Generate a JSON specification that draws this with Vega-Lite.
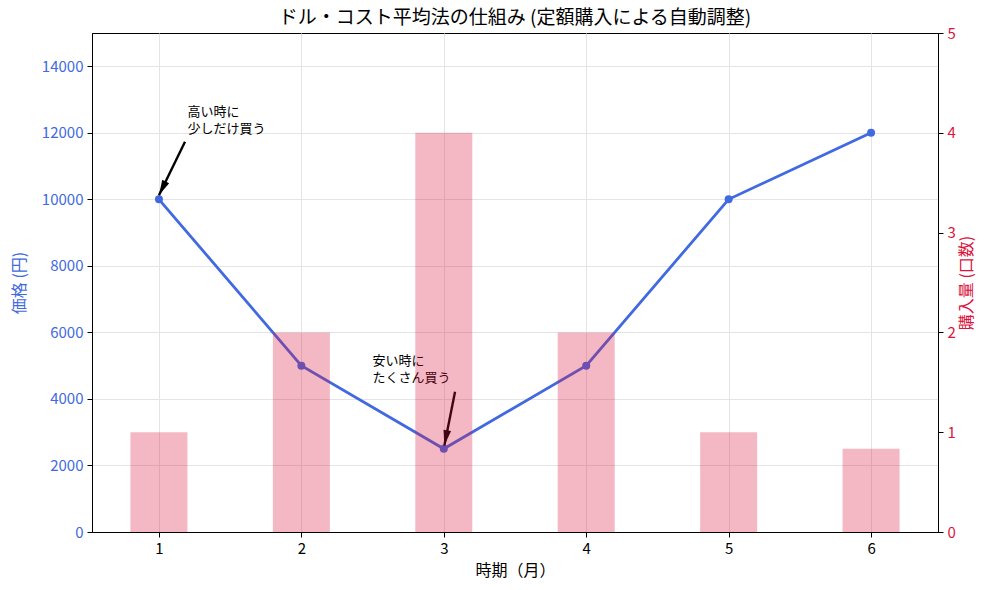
{
  "$schema": "https://vega.github.io/schema/vega-lite/v6.json",
  "width": 846,
  "height": 499,
  "autosize": "none",
  "padding": {"left": 92, "top": 33, "right": 52, "bottom": 58},
  "background": "white",
  "title": {
    "text": "ドル・コスト平均法の仕組み (定額購入による自動調整)",
    "fontSize": 19,
    "fontWeight": "normal",
    "color": "black",
    "anchor": "middle",
    "offset": -2
  },
  "datasets": {
    "prices": [
      {"month": 1, "price": 10000, "units": 1},
      {"month": 2, "price": 5000, "units": 2},
      {"month": 3, "price": 2500, "units": 4},
      {"month": 4, "price": 5000, "units": 2},
      {"month": 5, "price": 10000, "units": 1},
      {"month": 6, "price": 12000, "units": 0.8333}
    ],
    "notes": [
      {"id": "high", "label": "高い時に\n少しだけ買う", "tx": 1.2, "ty": 12000, "ax": 1.183, "ay": 11730, "hx": 1.0, "hy": 10120},
      {"id": "low", "label": "安い時に\nたくさん買う", "tx": 2.5, "ty": 4500, "ax": 3.079, "ay": 4217, "hx": 3.004, "hy": 2600}
    ]
  },
  "layer": [
    {
      "layer": [
        {
          "data": {"name": "prices"},
          "mark": {"type": "line", "color": "#4169E1", "strokeWidth": 2.8},
          "encoding": {
            "x": {
              "field": "month",
              "type": "quantitative",
              "title": "時期（月）",
              "scale": {"domain": [0.53, 6.47], "nice": false, "zero": false, "padding": 0},
              "axis": {"values": [1, 2, 3, 4, 5, 6], "format": "d", "grid": true}
            },
            "y": {
              "field": "price",
              "type": "quantitative",
              "title": "価格 (円)",
              "scale": {"domain": [0, 15000], "nice": false},
              "axis": {
                "orient": "left",
                "values": [0, 2000, 4000, 6000, 8000, 10000, 12000, 14000],
                "format": "d",
                "grid": true,
                "labelColor": "#4169E1",
                "titleColor": "#4169E1",
                "titlePadding": 14
              }
            }
          }
        },
        {
          "data": {"name": "prices"},
          "mark": {"type": "point", "filled": true, "color": "#4169E1", "size": 64, "opacity": 1},
          "encoding": {
            "x": {"field": "month", "type": "quantitative", "title": "時期（月）"},
            "y": {"field": "price", "type": "quantitative", "title": "価格 (円)"}
          }
        },
        {
          "data": {"name": "notes"},
          "mark": {"type": "rule", "color": "black", "strokeWidth": 2.4},
          "encoding": {
            "x": {"field": "ax", "type": "quantitative", "title": "時期（月）"},
            "y": {"field": "ay", "type": "quantitative", "title": "価格 (円)"},
            "x2": {"field": "hx"},
            "y2": {"field": "hy"}
          }
        },
        {
          "data": {"name": "notes"},
          "transform": [{"filter": "datum.id == 'high'"}],
          "mark": {"type": "point", "filled": true, "color": "black", "opacity": 1, "size": 196, "shape": "M0,0L-0.55,-2.2L0.55,-2.2Z", "angle": 26},
          "encoding": {
            "x": {"field": "hx", "type": "quantitative", "title": "時期（月）"},
            "y": {"field": "hy", "type": "quantitative", "title": "価格 (円)"}
          }
        },
        {
          "data": {"name": "notes"},
          "transform": [{"filter": "datum.id == 'low'"}],
          "mark": {"type": "point", "filled": true, "color": "black", "opacity": 1, "size": 196, "shape": "M0,0L-0.55,-2.2L0.55,-2.2Z", "angle": 11},
          "encoding": {
            "x": {"field": "hx", "type": "quantitative", "title": "時期（月）"},
            "y": {"field": "hy", "type": "quantitative", "title": "価格 (円)"}
          }
        },
        {
          "data": {"name": "notes"},
          "mark": {"type": "text", "align": "left", "baseline": "alphabetic", "lineBreak": "\n", "fontSize": 13, "lineHeight": 17, "dy": -17, "color": "black"},
          "encoding": {
            "x": {"field": "tx", "type": "quantitative", "title": "時期（月）"},
            "y": {"field": "ty", "type": "quantitative", "title": "価格 (円)"},
            "text": {"field": "label"}
          }
        }
      ]
    },
    {
      "data": {"name": "prices"},
      "mark": {"type": "bar", "size": 57, "color": "crimson", "opacity": 0.3},
      "encoding": {
        "x": {"field": "month", "type": "quantitative", "title": "時期（月）"},
        "y": {
          "field": "units",
          "type": "quantitative",
          "title": "購入量 (口数)",
          "scale": {"domain": [0, 5], "nice": false},
          "axis": {
            "orient": "right",
            "values": [0, 1, 2, 3, 4, 5],
            "format": "d",
            "grid": false,
            "labelColor": "crimson",
            "titleColor": "crimson",
            "titleAngle": -90,
            "titleBaseline": "top",
            "titlePadding": 3
          }
        }
      }
    }
  ],
  "resolve": {"scale": {"y": "independent"}},
  "config": {
    "font": "Noto Sans CJK JP",
    "view": {"stroke": "black", "strokeWidth": 1},
    "axis": {
      "domainColor": "black",
      "tickColor": "black",
      "tickSize": 5,
      "labelPadding": 4,
      "labelFontSize": 15,
      "labelColor": "black",
      "titleFontSize": 16,
      "titleFontWeight": "normal",
      "titleColor": "black",
      "gridColor": "#e4e4e4",
      "gridWidth": 1
    },
    "axisX": {"labelFontSize": 15, "titlePadding": 6}
  }
}
